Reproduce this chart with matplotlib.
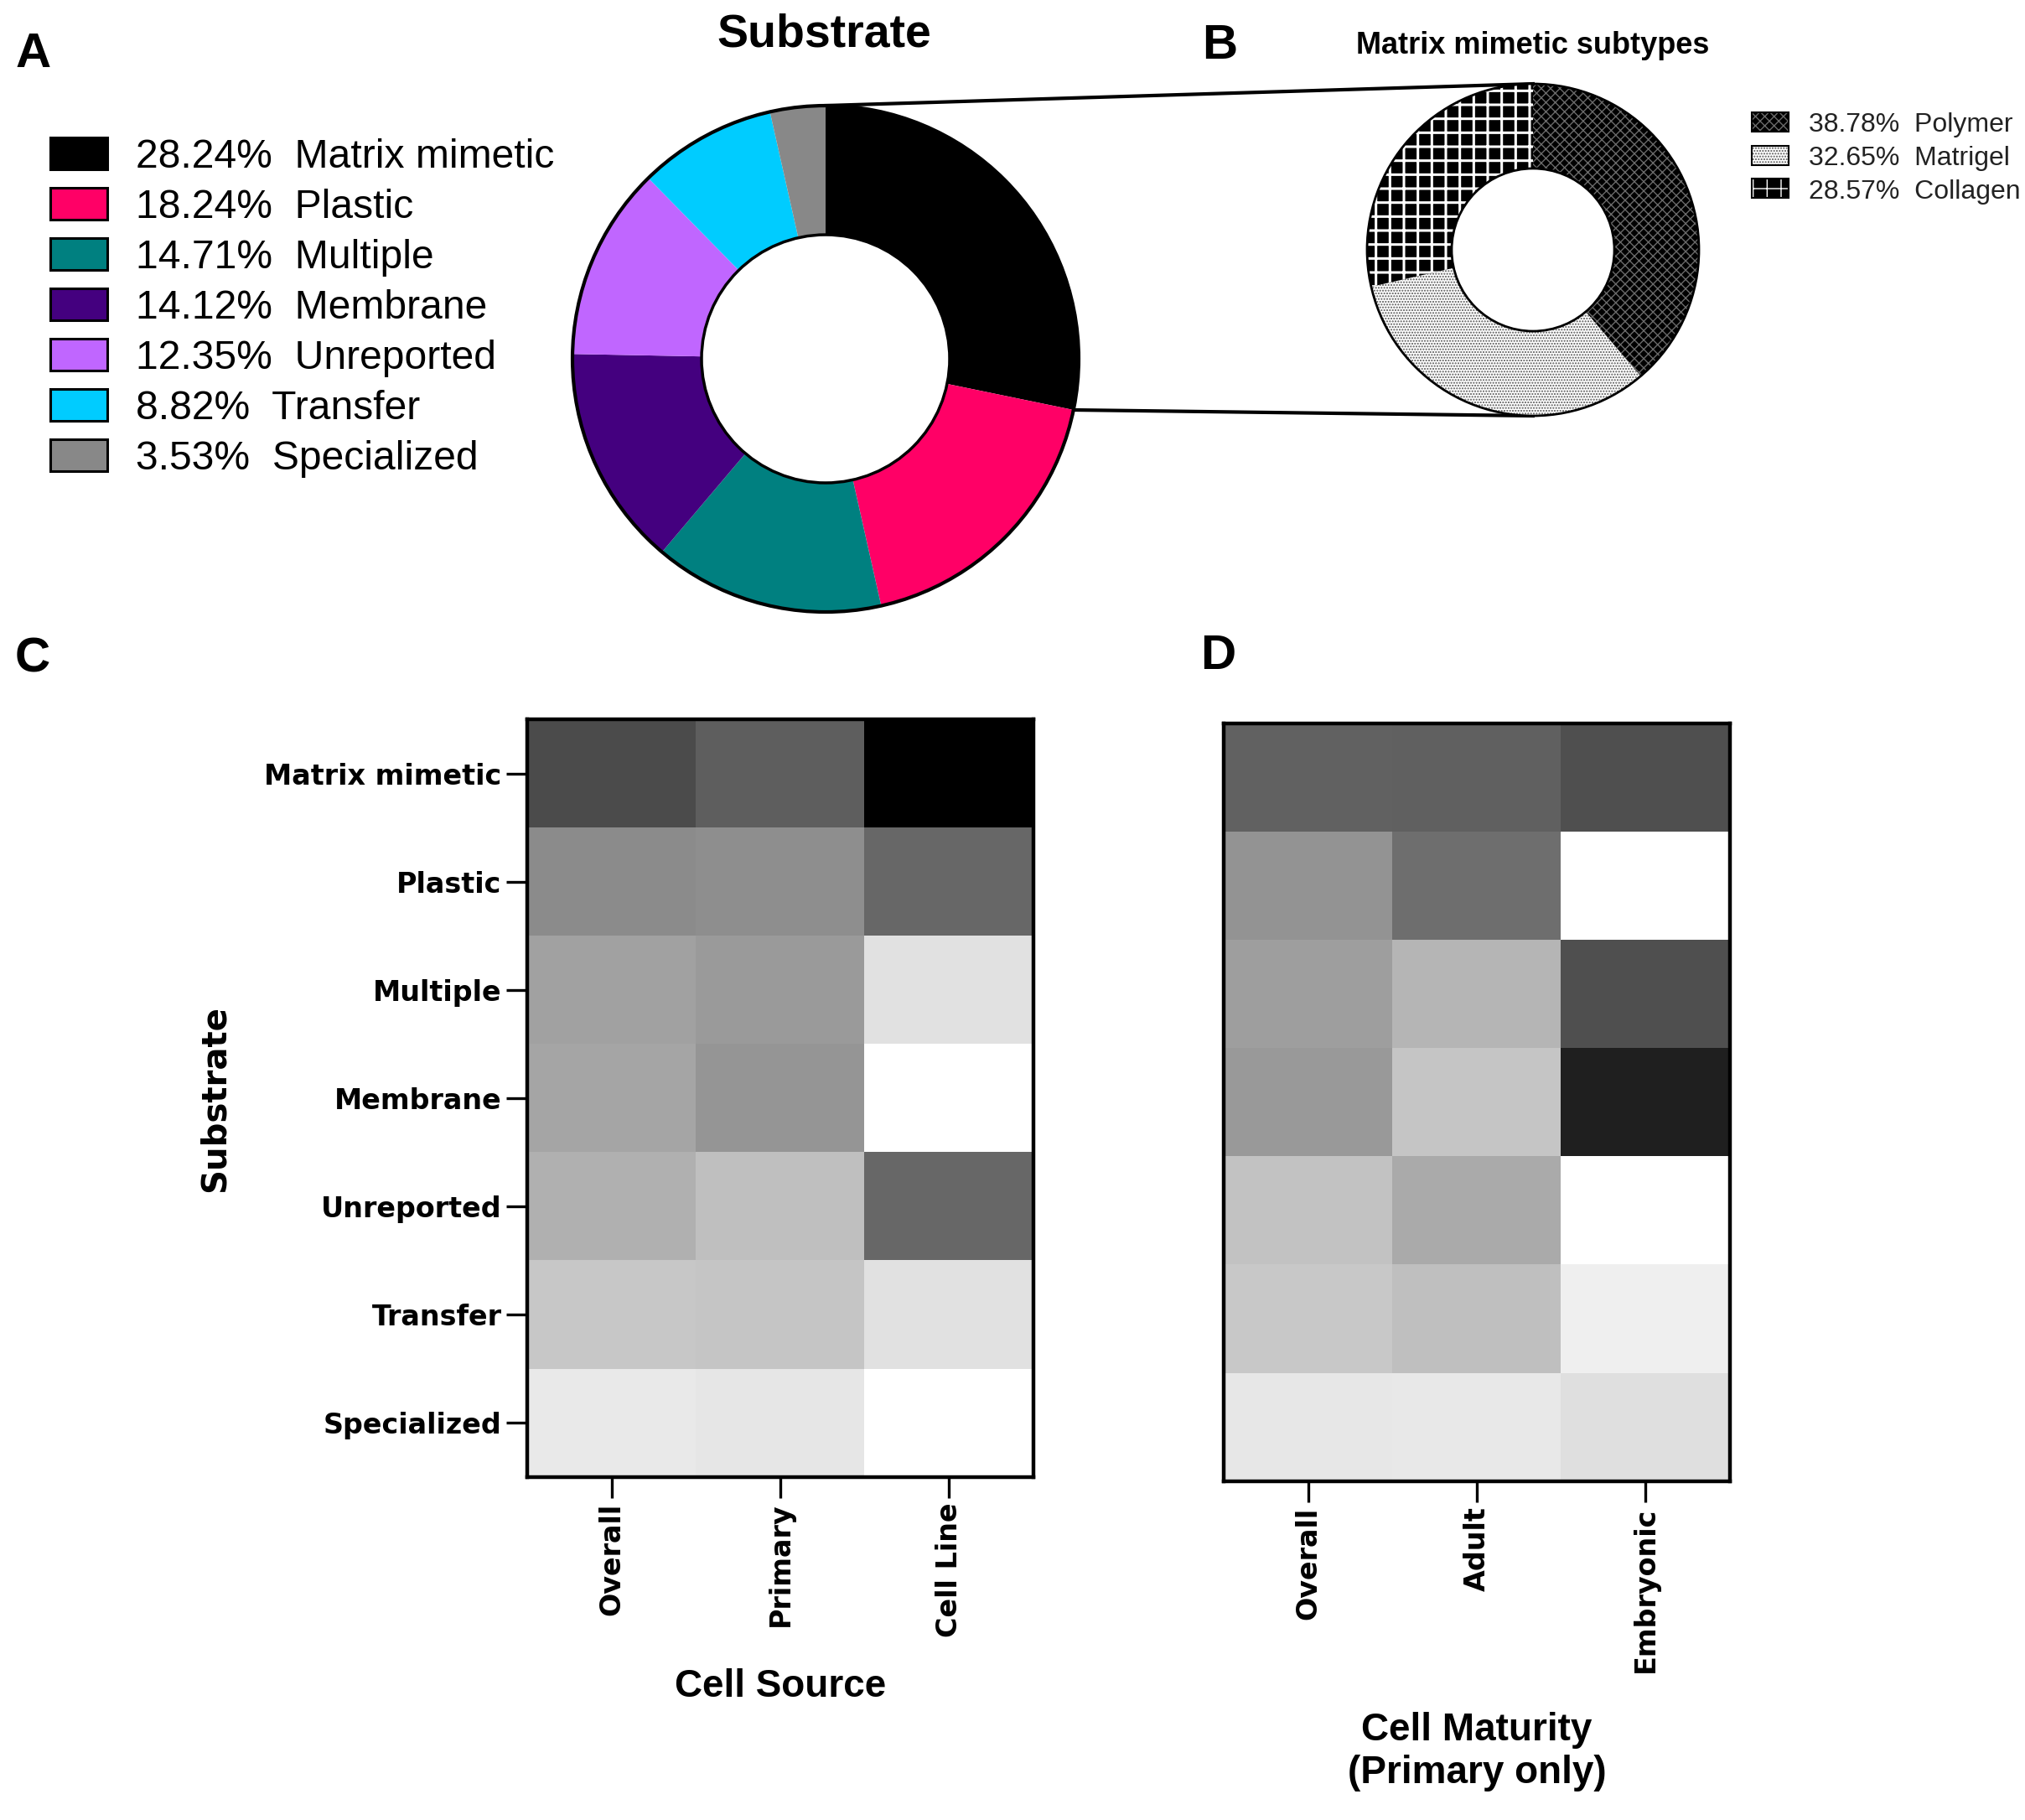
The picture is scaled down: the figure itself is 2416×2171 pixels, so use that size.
import numpy as np
import matplotlib
matplotlib.use('Agg')
import matplotlib.pyplot as plt
from matplotlib.colors import LinearSegmentedColormap
from matplotlib.patches import Rectangle, Circle

# Substrate shares (panel A)
substrates = ['Matrix mimetic', 'Plastic', 'Multiple', 'Membrane',
              'Unreported', 'Transfer', 'Specialized']
overall_pct = [28.24, 18.24, 14.71, 14.12, 12.35, 8.82, 3.53]
sub_colors = ['#000000', '#FF0066', '#008080', '#44007F',
              '#C066FF', '#00CCFF', '#888888']

# Matrix mimetic subtypes (panel B)
subtypes = ['Polymer', 'Matrigel', 'Collagen']
subtype_pct = [38.78, 32.65, 28.57]
sub_face = ['#000000', '#ffffff', '#000000']
sub_hatch = ['xxx', '.....', '+']
sub_hatch_col = ['#6a6a6a', '#555555', '#ffffff']

# Heatmap C (cell source), percent of studies
source_cols = ['Overall', 'Primary', 'Cell Line']
source_overall = overall_pct
source_primary = [25.2, 17.8, 15.9, 16.6, 10.0, 9.2, 4.0]
source_cell_line = [42.9, 23.8, 4.8, 0.0, 23.8, 4.8, 0.0]

# Heatmap D (cell maturity, primary only)
maturity_cols = ['Overall', 'Adult', 'Embryonic']
maturity_overall = [24.8, 16.9, 15.3, 16.0, 9.6, 8.6, 3.9]
maturity_adult = [24.9, 22.7, 11.6, 9.1, 13.3, 10.0, 3.6]
maturity_embryonic = [27.5, 0.0, 27.5, 35.0, 0.0, 2.5, 5.0]

W, H = 2416, 2171
fig = plt.figure(figsize=(W / 100, H / 100), dpi=100)

# overlay in pixel coordinates for legends and connector lines
ov = fig.add_axes([0, 0, 1, 1])
ov.set_xlim(0, W)
ov.set_ylim(H, 0)
ov.axis('off')


def px_axes(cx, cy, half):
    return fig.add_axes([(cx - half) / W, 1 - (cy + half) / H, 2 * half / W, 2 * half / H])


# ---- panel A donut
cxA, cyA, RA = 985, 428, 302
axA = px_axes(cxA, cyA, 320)
axA.pie(overall_pct, colors=sub_colors, startangle=90, counterclock=False,
        radius=RA, wedgeprops=dict(width=RA * 0.51, linewidth=0))
axA.add_patch(Circle((0, 0), RA, fill=False, lw=3, ec='black'))
axA.add_patch(Circle((0, 0), RA * 0.49, fill=False, lw=2.5, ec='black'))
axA.set_xlim(-320, 320)
axA.set_ylim(-320, 320)
axA.axis('off')

# ---- panel B donut
cxB, cyB, RB = 1829, 298, 198
axB = px_axes(cxB, cyB, 220)
wb, _ = axB.pie(subtype_pct, colors=sub_face, startangle=90, counterclock=False,
                radius=RB, wedgeprops=dict(width=RB * 0.51, linewidth=0))
for w, h, hc in zip(wb, sub_hatch, sub_hatch_col):
    w.set_hatch(h)
    w.set_edgecolor(hc)
    w.set_linewidth(0)
    if hasattr(w, 'set_hatch_linewidth'):
        w.set_hatch_linewidth(2.2 if h == '+' else 1.0)
axB.add_patch(Circle((0, 0), RB, fill=False, lw=2, ec='black'))
axB.add_patch(Circle((0, 0), RB * 0.49, fill=False, lw=2, ec='black'))
axB.set_xlim(-220, 220)
axB.set_ylim(-220, 220)
axB.axis('off')

# connector lines from the matrix mimetic slice to panel B
theta = np.deg2rad(90 - 360 * overall_pct[0] / sum(overall_pct))
ov.plot([cxA, cxB], [cyA - RA, cyB - RB], color='black', lw=3)
ov.plot([cxA + RA * np.cos(theta), cxB], [cyA - RA * np.sin(theta), cyB + RB],
        color='black', lw=3)

# ---- legends
for i, (name, p, c) in enumerate(zip(substrates, overall_pct, sub_colors)):
    yc = 183 + 60 * i
    ov.add_patch(Rectangle((60, yc - 19), 68, 38, facecolor=c, edgecolor='black', lw=2.2))
    ov.text(162, yc + 17, f'{p:.2f}%  {name}', fontsize=34.6, family='Liberation Sans',
            va='baseline', ha='left')

for i, (name, p, f, h, hc) in enumerate(zip(subtypes, subtype_pct, sub_face, sub_hatch, sub_hatch_col)):
    yc = 146 + 39.5 * i
    ov.add_patch(Rectangle((2090, yc - 12), 44, 23, facecolor=f, edgecolor=hc,
                           hatch=h, lw=0))
    ov.add_patch(Rectangle((2090, yc - 12), 44, 23, fill=False, edgecolor='black', lw=1.5))
    ov.text(2158, yc + 11.5, f'{p:.2f}%  {name}', fontsize=23, family='Liberation Sans',
            color='#222222', va='baseline', ha='left')

# ---- titles and panel letters
fig.text(983 / W, 1 - 42 / H, 'Substrate', fontsize=40, fontweight='bold',
         family='Liberation Sans', ha='center', va='center')
fig.text(1829 / W, 1 - 54 / H, 'Matrix mimetic subtypes', fontsize=26, fontweight='bold',
         family='Liberation Sans', ha='center', va='center')
for letter, (x, y) in zip('ABCD', [(40, 65), (1455, 55), (39, 786), (1453, 783)]):
    fig.text(x / W, 1 - y / H, letter, fontsize=42, fontweight='bold',
             family='Liberation Sans', ha='center', va='center')

# ---- heatmaps
cmap = LinearSegmentedColormap.from_list('white_black', ['#ffffff', '#000000'])


def heatmap(ax, cols, labels):
    data = np.column_stack(cols)
    ax.imshow(data, cmap=cmap, vmin=0, vmax=40, aspect='auto', interpolation='nearest')
    ax.set_xticks(range(len(labels)))
    ax.set_xticklabels(labels, rotation=90, fontsize=24, fontweight='bold',
                       family='DejaVu Sans', va='top', ha='center')
    ax.tick_params(axis='x', length=18, width=2.4, pad=4)
    for s in ax.spines.values():
        s.set_linewidth(3.2)


axC = fig.add_axes([629 / W, 1 - 1762 / H, 604 / W, 904 / H])
heatmap(axC, [source_overall, source_primary, source_cell_line], source_cols)
axC.set_yticks(range(len(substrates)))
axC.set_yticklabels(substrates, fontsize=24, fontweight='bold', family='DejaVu Sans')
axC.tick_params(axis='y', length=18, width=2.4, pad=4)
axC.set_ylabel('Substrate', fontsize=29, fontweight='bold', family='DejaVu Sans', labelpad=28)
axC.set_xlabel('Cell Source', fontsize=33, fontweight='bold', family='Liberation Sans')
axC.xaxis.set_label_coords(0.5, -0.252)

axD = fig.add_axes([1460 / W, 1 - 1767 / H, 604 / W, 904 / H])
heatmap(axD, [maturity_overall, maturity_adult, maturity_embryonic], maturity_cols)
axD.set_yticks([])
axD.set_xlabel('Cell Maturity\n(Primary only)', fontsize=33, fontweight='bold',
               family='Liberation Sans', linespacing=1.2)
axD.xaxis.set_label_coords(0.5, -0.304)

fig.savefig('out.png', dpi=100, facecolor='white')
